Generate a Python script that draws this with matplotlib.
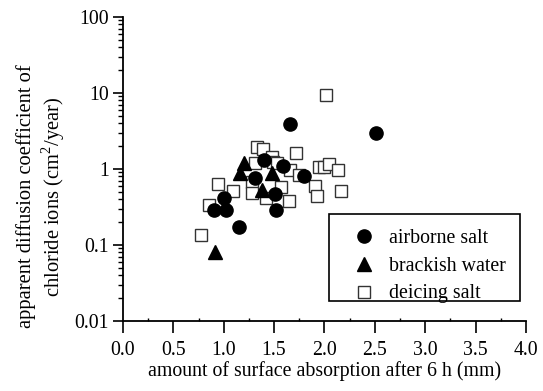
import matplotlib
matplotlib.use("Agg")
import matplotlib.pyplot as plt
from matplotlib.patches import Rectangle
from matplotlib.ticker import FixedLocator, FuncFormatter, LogLocator, NullFormatter

plt.rcParams['font.family'] = ['Liberation Serif', 'DejaVu Serif']
plt.rcParams['mathtext.fontset'] = 'custom'
plt.rcParams['mathtext.rm'] = 'Liberation Serif'

# airborne salt
air_x = [0.90, 1.02, 1.00, 1.15, 1.31, 1.40, 1.51, 1.52, 1.59, 1.66, 1.80, 2.51]
air_y = [0.29, 0.29, 0.41, 0.175, 0.77, 1.32, 0.47, 0.29, 1.11, 3.9, 0.80, 2.95]

# brackish water
brack_x = [0.91, 1.20, 1.16, 1.38, 1.48]
brack_y = [0.08, 1.20, 0.89, 0.53, 0.89]

# deicing salt
deice_x = [0.77, 0.85, 0.94, 1.09, 1.33, 1.39, 1.31, 1.28, 1.28, 1.48, 1.49, 1.42,
           1.57, 1.53, 1.65, 1.66, 1.72, 1.75, 1.91, 1.93, 1.95, 2.00, 2.02, 2.05,
           2.13, 2.16]
deice_y = [0.135, 0.34, 0.64, 0.51, 1.97, 1.86, 1.20, 0.67, 0.49, 1.43, 1.25, 0.41,
           0.58, 1.20, 0.375, 0.98, 1.61, 0.83, 0.60, 0.44, 1.06, 1.07, 9.4, 1.17,
           0.98, 0.51]

fs = 14.3

fig = plt.figure(figsize=(5.43, 3.91), dpi=100)
ax = fig.add_axes([0.2265, 0.179, 0.742, 0.7775])

ax.plot(deice_x, deice_y, 's', ms=8, mfc='white', mec='#333333', mew=1.0,
        label='deicing salt', zorder=2)
ax.plot(air_x, air_y, 'o', ms=9.5, color='black', label='airborne salt', zorder=3)
ax.plot(brack_x, brack_y, '^', ms=10, color='black', label='brackish water', zorder=4)

ax.set_xlim(0, 4.0)
ax.set_yscale('log')
ax.set_ylim(0.01, 100)

ax.spines['top'].set_visible(False)
ax.spines['right'].set_visible(False)
for s in ('left', 'bottom'):
    ax.spines[s].set_linewidth(1.3)

ax.xaxis.set_major_locator(FixedLocator([0, 0.5, 1, 1.5, 2, 2.5, 3, 3.5, 4]))
ax.xaxis.set_minor_locator(FixedLocator([0.25, 0.75, 1.25, 1.75, 2.25, 2.75, 3.25, 3.75]))
ax.xaxis.set_major_formatter(FuncFormatter(lambda v, p: f"{v:.1f}"))
ax.yaxis.set_major_locator(LogLocator(base=10, numticks=10))
ax.yaxis.set_minor_locator(LogLocator(base=10, subs=range(2, 10), numticks=10))
ax.yaxis.set_minor_formatter(NullFormatter())
ax.yaxis.set_major_formatter(FuncFormatter(lambda v, p: f"{v:g}"))

ax.tick_params(axis='x', which='major', direction='out', length=8.5, width=1.2,
               labelsize=fs, pad=6)
ax.tick_params(axis='x', which='minor', direction='in', length=2, width=1.0)
ax.tick_params(axis='y', which='major', direction='out', length=7, width=1.2,
               labelsize=fs, pad=3)
ax.tick_params(axis='y', which='minor', direction='out', length=3.5, width=1.0)

ax.set_xlabel('amount of surface absorption after 6 h (mm)', fontsize=fs, labelpad=1)
ax.set_ylabel('apparent diffusion coefficient of\nchloride ions (cm$^2$/year)',
              fontsize=14.8, linespacing=1.15)
ax.yaxis.set_label_coords(-0.14, 0.41)

# legend frame drawn separately so the rows can sit where the reference has them
ax.add_patch(Rectangle((0.511, 0.067), 0.474, 0.285, transform=ax.transAxes,
                       fill=True, facecolor='white', edgecolor='black', lw=1.2,
                       zorder=5))
handles, labels = ax.get_legend_handles_labels()
order = [1, 2, 0]
leg = ax.legend([handles[i] for i in order], [labels[i] for i in order],
                loc='upper left', bbox_to_anchor=(0.562, 0.304), fontsize=fs,
                frameon=False, borderpad=0, labelspacing=0.45, handletextpad=0.5,
                handlelength=1.5, borderaxespad=0)
leg.set_zorder(6)

fig.savefig('out.png', dpi=100)
